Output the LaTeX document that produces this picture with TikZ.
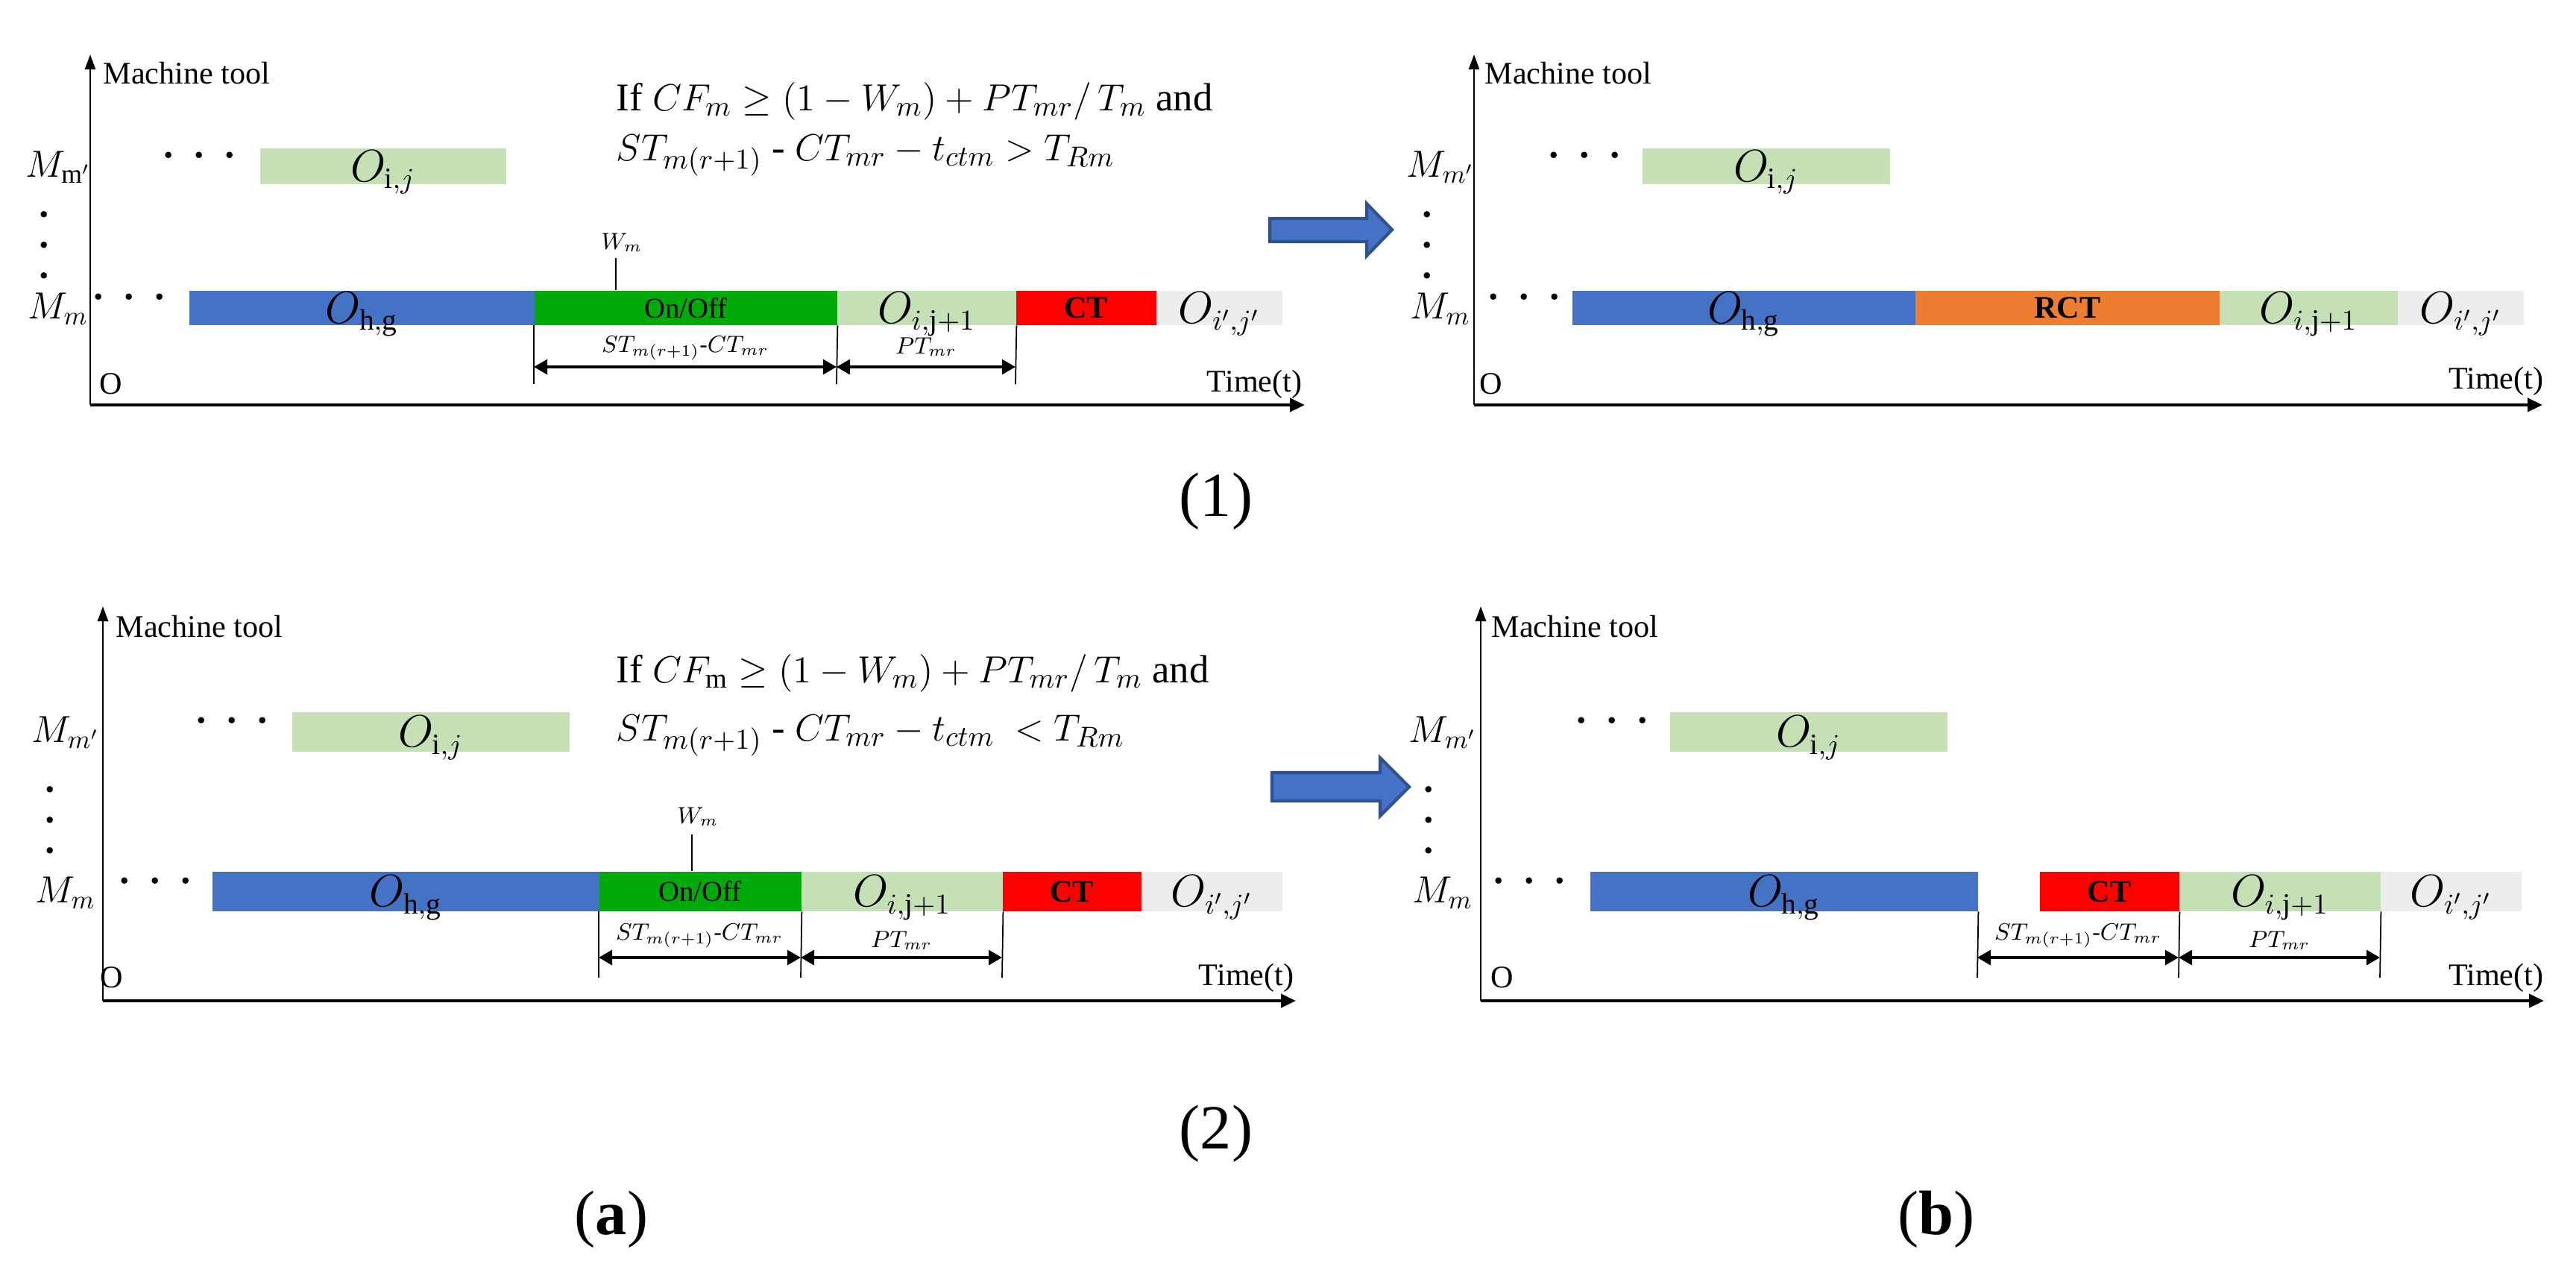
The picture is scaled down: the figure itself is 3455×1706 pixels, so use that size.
\documentclass[tikz,border=0pt]{standalone}
\usepackage{fontspec}
\setmainfont{Liberation Serif}
\usetikzlibrary{arrows.meta}
\definecolor{opblue}{HTML}{4472C4}
\definecolor{opedge}{HTML}{2F528F}
\definecolor{oplight}{HTML}{C5E0B4}
\definecolor{opgreen}{RGB}{0,170,10}
\definecolor{opred}{HTML}{FF0000}
\definecolor{oporange}{HTML}{ED7D31}
\definecolor{opgrey}{HTML}{EDEDED}
\tikzset{
  jobbox/.style={inner sep=0pt, text depth=0pt, anchor=north west, font=\fontsize{16}{18}\selectfont},
  axis/.style={line width=1.2pt, -{Triangle[length=2mm,width=1.8mm]}},
  yaxis/.style={line width=0.8pt, -{Triangle[length=2mm,width=1.4mm]}},
  dim/.style={line width=0.9pt, {Triangle[length=1.8mm,width=2mm]}-{Triangle[length=1.8mm,width=2mm]}},
  ext/.style={line width=0.5pt},
  lab/.style={font=\fontsize{12}{14}\selectfont, inner sep=0pt},
  mlab/.style={font=\fontsize{14.5}{16}\selectfont, inner sep=0pt},
  dimlab/.style={font=\fontsize{9}{11}\selectfont, inner sep=0pt},
  cond/.style={font=\fontsize{15}{18}\selectfont, anchor=base west, inner sep=0pt},
  dots/.style={font=\fontsize{20}{22}\selectfont, inner sep=0pt},
  caption/.style={font=\fontsize{24}{28}\selectfont, inner sep=0pt},
  bigarrow/.style={fill=opblue, draw=opedge, line width=1.2pt},
}
\newcommand\onoff{\fontsize{11}{13}\selectfont On/Off}
\newcommand\ctlab[1]{\fontsize{12}{14}\selectfont\bfseries #1}
\begin{document}
\begin{tikzpicture}[x=0.1mm,y=-0.1mm]
\useasboundingbox (0,0) rectangle (3455,1706);

% (1)(a)
\coordinate (A-o) at (121,543);
\coordinate (A-top) at (121,73);
\coordinate (A-end) at (1750,543);
\draw[yaxis] (A-o) -- (A-top);
\draw[axis] (A-o) -- (A-end);
\node[lab, anchor=west] (A-mt) at (138,98) {Machine tool};
\node[lab] (A-O) at (149,515) {O};
\node[lab, anchor=east] (A-t) at (1747,515) {Time(t)};
\node[mlab] (A-m2) at (78,224) {$M_{\mathrm{m}'}$};
\node[mlab] (A-m1) at (78,414) {$M_m$};
\node[dots, rotate=90] (A-vd) at (69,329) {· · ·};
\node[dots] (A-d2) at (267,218) {· · ·};
\node[dots] (A-d1) at (173,408) {· · ·};
\node[jobbox, fill=oplight, minimum width=33mm, minimum height=4.8mm] (A-ij) at (348,198) {$O_{\mathrm{i},j}$};
\node[jobbox, fill=opblue, minimum width=46.3mm, minimum height=4.6mm] (A-hg) at (253,389) {$O_{\mathrm{h,g}}$};
\node[jobbox, fill=opgreen, minimum width=40.6mm, minimum height=4.6mm] (A-onoff) at (716,389) {\onoff};
\node[jobbox, fill=oplight, minimum width=24mm, minimum height=4.6mm] (A-ij1) at (1122,389) {$O_{i,\mathrm{j}+1}$};
\node[jobbox, fill=opred, minimum width=18.8mm, minimum height=4.6mm] (A-ct) at (1362,389) {\ctlab{CT}};
\node[jobbox, fill=opgrey, minimum width=16.9mm, minimum height=4.6mm] (A-nx) at (1550,389) {$O_{i',j'}$};
\node[dimlab] (A-wm) at (834,325) {$W_m$};
\coordinate (A-wt) at (826,346);
\draw[ext] (A-wt) -- (A-wt |- A-onoff.north);
\coordinate (A-e1) at (716,515);
\coordinate (A-e2) at (1122,515);
\coordinate (A-e3) at (1362,515);
\draw[ext] (A-onoff.south west) -- (A-e1);
\draw[ext] (A-onoff.south east) -- (A-e2);
\draw[ext] (A-ij1.south east) -- (A-e3);
\coordinate (A-a1) at (716,492);
\coordinate (A-a2) at (1122,492);
\coordinate (A-a3) at (1362,492);
\draw[dim] (A-a1) -- (A-a2);
\draw[dim] (A-a2) -- (A-a3);
\node[dimlab] (A-st) at (919,467) {$ST_{m(r+1)}$-$CT_{mr}$};
\node[dimlab] (A-pt) at (1242,465) {$PT_{mr}$};
\node[cond] (A-c1) at (826,148) {If $CF_m \geq (1-W_m)+PT_{mr}/\,T_m$ and};
\node[cond] (A-c2) at (826,215) {$ST_{m(r+1)}$ - $CT_{mr} - t_{ctm} > T_{Rm}$};

\filldraw[bigarrow] (1703,293) -- (1833,293) -- (1833,273) -- (1867,308) -- (1833,343) -- (1833,324) -- (1703,324) -- cycle;

% (1)(b)
\coordinate (B-o) at (1977,543);
\coordinate (B-top) at (1977,73);
\coordinate (B-end) at (3410,543);
\draw[yaxis] (B-o) -- (B-top);
\draw[axis] (B-o) -- (B-end);
\node[lab, anchor=west] (B-mt) at (1991,98) {Machine tool};
\node[lab] (B-O) at (2000,515) {O};
\node[lab, anchor=east] (B-t) at (3412,511) {Time(t)};
\node[mlab] (B-m2) at (1932,224) {$M_{m'}$};
\node[mlab] (B-m1) at (1932,414) {$M_m$};
\node[dots, rotate=90] (B-vd) at (1924,329) {· · ·};
\node[dots] (B-d2) at (2125,218) {· · ·};
\node[dots] (B-d1) at (2044,408) {· · ·};
\node[jobbox, fill=oplight, minimum width=33.2mm, minimum height=4.8mm] (B-ij) at (2202,198) {$O_{\mathrm{i},j}$};
\node[jobbox, fill=opblue, minimum width=46mm, minimum height=4.6mm] (B-hg) at (2108,389) {$O_{\mathrm{h,g}}$};
\node[jobbox, fill=oporange, minimum width=40.8mm, minimum height=4.6mm] (B-rct) at (2568,389) {\ctlab{RCT}};
\node[jobbox, fill=oplight, minimum width=23.9mm, minimum height=4.6mm] (B-ij1) at (2976,389) {$O_{i,\mathrm{j}+1}$};
\node[jobbox, fill=opgrey, minimum width=16.9mm, minimum height=4.6mm] (B-nx) at (3215,389) {$O_{i',j'}$};

\node[caption] (L1) at (1631,672) {(1)};

% (2)(a)
\coordinate (C-o) at (138,1342);
\coordinate (C-top) at (138,813);
\coordinate (C-end) at (1738,1342);
\draw[yaxis] (C-o) -- (C-top);
\draw[axis] (C-o) -- (C-end);
\node[lab, anchor=west] (C-mt) at (155,840) {Machine tool};
\node[lab] (C-O) at (150,1311) {O};
\node[lab, anchor=east] (C-t) at (1736,1311) {Time(t)};
\node[mlab] (C-m2) at (88,982) {$M_{m'}$};
\node[mlab] (C-m1) at (88,1197) {$M_m$};
\node[dots, rotate=90] (C-vd) at (77,1100) {· · ·};
\node[dots] (C-d2) at (311,976) {· · ·};
\node[dots] (C-d1) at (208,1191) {· · ·};
\node[jobbox, fill=oplight, minimum width=37.2mm, minimum height=5.3mm] (C-ij) at (391,954) {$O_{\mathrm{i},j}$};
\node[jobbox, fill=opblue, minimum width=51.9mm, minimum height=5.3mm] (C-hg) at (284,1168) {$O_{\mathrm{h,g}}$};
\node[jobbox, fill=opgreen, minimum width=27.1mm, minimum height=5.3mm] (C-onoff) at (803,1168) {\onoff};
\node[jobbox, fill=oplight, minimum width=27mm, minimum height=5.3mm] (C-ij1) at (1074,1168) {$O_{i,\mathrm{j}+1}$};
\node[jobbox, fill=opred, minimum width=18.6mm, minimum height=5.3mm] (C-ct) at (1344,1168) {\ctlab{CT}};
\node[jobbox, fill=opgrey, minimum width=18.9mm, minimum height=5.3mm] (C-nx) at (1530,1168) {$O_{i',j'}$};
\node[dimlab] (C-wm) at (936,1095) {$W_m$};
\coordinate (C-wt) at (928,1119);
\draw[ext] (C-wt) -- (C-wt |- C-onoff.north);
\coordinate (C-e1) at (803,1311);
\coordinate (C-e2) at (1074,1311);
\coordinate (C-e3) at (1344,1311);
\draw[ext] (C-onoff.south west) -- (C-e1);
\draw[ext] (C-onoff.south east) -- (C-e2);
\draw[ext] (C-ij1.south east) -- (C-e3);
\coordinate (C-a1) at (803,1284);
\coordinate (C-a2) at (1074,1284);
\coordinate (C-a3) at (1344,1284);
\draw[dim] (C-a1) -- (C-a2);
\draw[dim] (C-a2) -- (C-a3);
\node[dimlab] (C-st) at (938,1255) {$ST_{m(r+1)}$-$CT_{mr}$};
\node[dimlab] (C-pt) at (1209,1261) {$PT_{mr}$};
\node[cond] (C-c1) at (826,915) {If $CF_{\mathrm{m}} \geq (1-W_m)+PT_{mr}/\,T_m$ and};
\node[cond] (C-c2) at (826,993) {$ST_{m(r+1)}$ - $CT_{mr} - t_{ctm}\ < T_{Rm}$};

\filldraw[bigarrow] (1706,1036) -- (1851,1036) -- (1851,1016) -- (1890,1055) -- (1851,1094) -- (1851,1074) -- (1706,1074) -- cycle;

% (2)(b)
\coordinate (D-o) at (1986,1342);
\coordinate (D-top) at (1986,813);
\coordinate (D-end) at (3412,1342);
\draw[yaxis] (D-o) -- (D-top);
\draw[axis] (D-o) -- (D-end);
\node[lab, anchor=west] (D-mt) at (2000,840) {Machine tool};
\node[lab] (D-O) at (2015,1311) {O};
\node[lab, anchor=east] (D-t) at (3412,1311) {Time(t)};
\node[mlab] (D-m2) at (1935,982) {$M_{m'}$};
\node[mlab] (D-m1) at (1935,1197) {$M_m$};
\node[dots, rotate=90] (D-vd) at (1926,1100) {· · ·};
\node[dots] (D-d2) at (2162,976) {· · ·};
\node[dots] (D-d1) at (2051,1191) {· · ·};
\node[jobbox, fill=oplight, minimum width=37.2mm, minimum height=5.3mm] (D-ij) at (2239,954) {$O_{\mathrm{i},j}$};
\node[jobbox, fill=opblue, minimum width=52mm, minimum height=5.3mm] (D-hg) at (2132,1168) {$O_{\mathrm{h,g}}$};
\node[jobbox, fill=opred, minimum width=18.7mm, minimum height=5.3mm] (D-ct) at (2735,1168) {\ctlab{CT}};
\node[jobbox, fill=oplight, minimum width=27mm, minimum height=5.3mm] (D-ij1) at (2922,1168) {$O_{i,\mathrm{j}+1}$};
\node[jobbox, fill=opgrey, minimum width=18.9mm, minimum height=5.3mm] (D-nx) at (3192,1168) {$O_{i',j'}$};
\coordinate (D-e1) at (2652,1311);
\coordinate (D-e2) at (2922,1311);
\coordinate (D-e3) at (3192,1311);
\draw[ext] (D-hg.south east) -- (D-e1);
\draw[ext] (D-ct.south east) -- (D-e2);
\draw[ext] (D-ij1.south east) -- (D-e3);
\coordinate (D-a1) at (2652,1284);
\coordinate (D-a2) at (2922,1284);
\coordinate (D-a3) at (3192,1284);
\draw[dim] (D-a1) -- (D-a2);
\draw[dim] (D-a2) -- (D-a3);
\node[dimlab] (D-st) at (2787,1255) {$ST_{m(r+1)}$-$CT_{mr}$};
\node[dimlab] (D-pt) at (3057,1261) {$PT_{mr}$};

\node[caption] (L2) at (1631,1520) {(2)};
\node[caption] (La) at (820,1635) {(\textbf{a})};
\node[caption] (Lb) at (2597,1635) {(\textbf{b})};
\end{tikzpicture}
\end{document}
